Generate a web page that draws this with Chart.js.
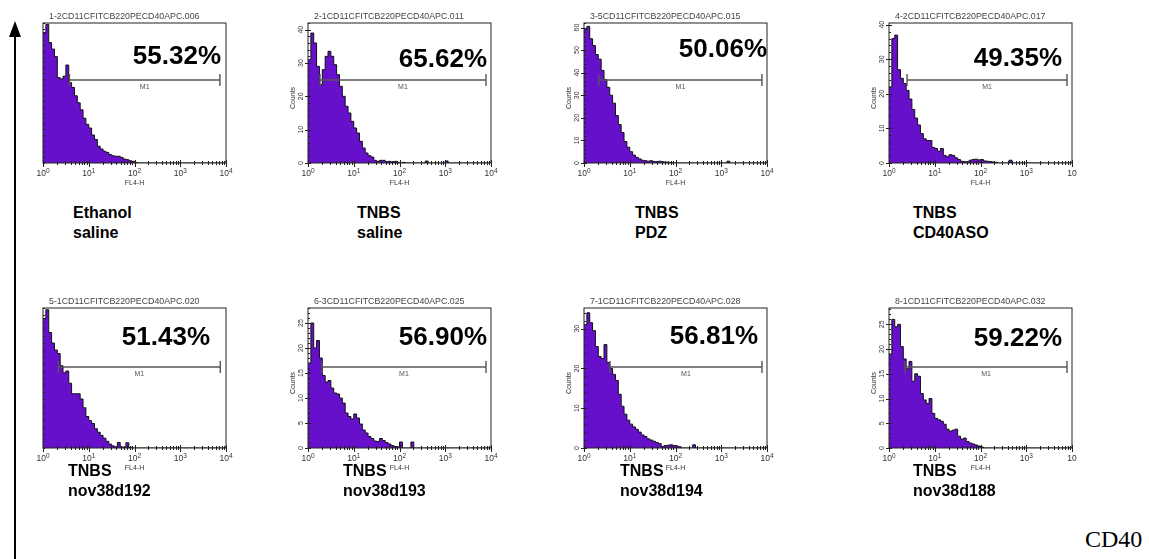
<!DOCTYPE html>
<html>
<head>
<meta charset="utf-8">
<script src="https://cdn.jsdelivr.net/npm/chart.js@4.4.1/dist/chart.umd.min.js"></script>
<style>
  html, body { margin: 0; padding: 0; background: #fff; }
  body { width: 1149px; height: 559px; position: relative; overflow: hidden; font-family: "Liberation Sans", Arial, sans-serif; }
  canvas.panel { position: absolute; }
  .cond { position: absolute; font-weight: bold; font-size: 16px; line-height: 20px; color: #000; white-space: nowrap; }
  #cd40 { position: absolute; left: 1085px; top: 525px; font-family: "Liberation Serif", "Times New Roman", serif; font-size: 24px; line-height: 28px; }
  #arrow { position: absolute; left: 0; top: 0; }
</style>
</head>
<body>
<svg id="arrow" width="30" height="559">
  <line x1="15" y1="34" x2="15" y2="559" stroke="#000" stroke-width="2"/>
  <polygon points="15,21 9,37 21,37" fill="#000"/>
</svg>
<div id="cd40">CD40</div>

<script>
// FL4-H channel of each bin's left edge (1024 channels = 4 decades)
const channels = [0, 16, 32, 48, 64, 80, 96, 112, 128, 144, 160, 176, 192, 208, 224, 240,
  256, 272, 288, 304, 320, 336, 352, 368, 384, 400, 416, 432, 448, 464, 480, 496,
  512, 528, 544, 560, 576, 592, 608, 624, 640, 656, 672, 688, 704, 720, 736, 752,
  768, 784, 800, 816, 832, 848, 864, 880, 896, 912, 928, 944, 960, 976, 992, 1008];

const fileNames = [
  "1-2CD11CFITCB220PECD40APC.006", "2-1CD11CFITCB220PECD40APC.011",
  "3-5CD11CFITCB220PECD40APC.015", "4-2CD11CFITCB220PECD40APC.017",
  "5-1CD11CFITCB220PECD40APC.020", "6-3CD11CFITCB220PECD40APC.025",
  "7-1CD11CFITCB220PECD40APC.028", "8-1CD11CFITCB220PECD40APC.032"
];
const percents = ["55.32%", "65.62%", "50.06%", "49.35%", "51.43%", "56.90%", "56.81%", "59.22%"];
const groups = [
  ["Ethanol", "saline"], ["TNBS", "saline"], ["TNBS", "PDZ"], ["TNBS", "CD40ASO"],
  ["TNBS", "nov38d192"], ["TNBS", "nov38d193"], ["TNBS", "nov38d194"], ["TNBS", "nov38d188"]
];

// counts per bin
const countsEth = [46.6, 49.5, 43, 40.7, 38, 30.5, 30, 31, 35, 28.7, 27, 24, 21.5, 19, 16, 13.8,
  12.5, 10, 8.4, 6, 5, 4.2, 3.8, 3, 2.6, 2.4, 2.4, 2, 1.4, 1.2, 0.8, 0.6, 0.2];
const countsTnbs = [31, 39, 36, 29, 23.5, 28, 32, 33.5, 32, 29.5, 26.5, 23, 20, 17, 15, 12.5,
  10.5, 9, 6.5, 4.5, 3, 2.2, 1.8, 0.8, 0.5, 0.8, 0.8, 0.4, 0.5, 0.3, 0.5, 0.2,
  0, 0.2, 0, 0, 0, 0, 0, 0, 0, 0.6, 0, 0, 0, 0, 0, 0, 0.6];
const countsPdz = [59, 60.5, 55, 52, 48, 46, 41, 37, 33.5, 30, 26.5, 21, 17, 13.5, 9.5, 7,
  5, 3.5, 2.5, 1.8, 1.2, 1, 0.8, 1, 0.7, 0.6, 0.8, 0.5, 0.4, 0.3, 0.2, 0,
  0, 0, 0, 0, 0, 0, 0, 0, 0, 0, 0, 0, 0, 0, 0, 0, 0, 0, 0.8];
const countsAso = [22, 36, 37, 27, 24.5, 23, 21, 18.5, 15.5, 13, 11, 8.5, 7, 6.5, 6.5, 4.5,
  4.2, 3.4, 4.2, 2.2, 1.8, 2.4, 2.2, 1.5, 1, 0.5, 0.4, 0.3, 0.8, 1, 1.1, 0.9,
  1, 0.6, 0.5, 0.4, 0.3, 0.2, 0, 0, 0, 0, 0.8];
const countsD192 = [37, 39.5, 33, 30, 28, 27, 23.5, 21.5, 22, 18.5, 15.5, 15.5, 15.5, 14, 11.5, 9,
  7.8, 7, 5.5, 4.5, 3.6, 2.8, 1.9, 1.1, 0.6, 0.3, 1.6, 0.3, 0.2, 1.5, 0.2];
const countsD193 = [17, 25, 20, 21.5, 18, 14.5, 13.2, 13.5, 12, 11, 10.8, 10, 9, 7, 6.3, 5.8,
  6.8, 6, 4.8, 3.6, 3, 2.3, 1.9, 1.4, 1.3, 1.9, 1.5, 1.1, 0.8, 0.5, 0.3, 0.2,
  1.2, 0, 0, 0, 1.2];
const countsD194 = [31, 34, 31.5, 29.5, 25.5, 23, 22.5, 26, 21.5, 20, 18.5, 17, 13.5, 10.5, 8.5, 7,
  6, 5.3, 4.7, 4, 3.3, 2.9, 2.3, 2, 1.7, 1.4, 1.1, 0.4, 0.6, 0.7, 0.8, 0.6,
  0.5, 0.3, 0, 0, 0, 0, 0.8];
const countsD188 = [19, 26, 24.5, 25, 20.5, 18, 16, 17.5, 13.5, 15, 14.5, 11, 9.7, 9, 10, 7,
  6, 5.7, 5.4, 4.8, 3.8, 3.4, 3.6, 3.8, 2.4, 1.8, 2, 1.3, 1, 0.8, 0.6, 0.4, 0.2];

const allCounts = [countsEth, countsTnbs, countsPdz, countsAso, countsD192, countsD193, countsD194, countsD188];

// M1 gate (channels)
const gateStart = [148, 67, 83, 101, 86, 78, 145, 90];
const gateEnd = [990, 996, 996, 996, 992, 996, 996, 996];

const yMax = [50, 42, 62, 40.5, 40, 28, 35.2, 28.3];
const yTicks = [[], [0, 10, 20, 30, 40], [0, 10, 20, 30, 40, 50, 60], [0, 10, 20, 30, 40],
  [], [0, 5, 10, 15, 20, 25], [0, 10, 20, 30], [0, 5, 10, 15, 20, 25]];
const yMinorStep = [2, 2, 2, 2, 2, 1, 2, 1];
const decadeExp = ["0", "1", "2", "3", "4"];
const decadeExpCut = ["0", "1", "2", "3", ""];

// layout
const plotLeft = [43, 308, 584, 889];
const plotTop = [23, 308];
const plotW = 183, plotH = 140;
const pad = { left: 40, top: 22, right: 30, bottom: 26 };
const pctDx = [-5, -4, 0, -10, -16, -4, -9, -10];
const pctDy = [34, 37, 27, 36, 30, 30, 29, 31];
const gateDy = [57, 59];
const condLeft = [[73, 357, 635, 913], [68, 343, 620, 913]];
const condTop = [203, 461];
const purple = "#6610cc";
const FONT = '"Liberation Sans", Arial, sans-serif';

const histDecor = {
  id: "histDecor",
  afterDatasetsDraw(chart, args, opts) {
    const i = opts.idx;
    const { ctx, chartArea: a, scales: { x, y } } = chart;
    ctx.save();
    ctx.strokeStyle = "#222";
    ctx.lineWidth = 1;
    ctx.strokeRect(a.left, a.top, a.width, a.height);

    // x ticks
    ctx.beginPath();
    for (let d = 0; d <= 4; d++) {
      const px = Math.round(x.getPixelForValue(d * 256)) + 0.5;
      ctx.moveTo(px, a.bottom - 3); ctx.lineTo(px, a.bottom + 4);
      if (d < 4) {
        for (let m = 2; m <= 9; m++) {
          const mx = Math.round(x.getPixelForValue(256 * (d + Math.log10(m)))) + 0.5;
          ctx.moveTo(mx, a.bottom - 2); ctx.lineTo(mx, a.bottom + 2);
        }
      }
    }
    // y minor ticks
    for (let v = 0; v <= yMax[i]; v += yMinorStep[i]) {
      const py = Math.round(y.getPixelForValue(v)) + 0.5;
      ctx.moveTo(a.left, py); ctx.lineTo(a.left + 2, py);
    }
    yTicks[i].forEach(v => {
      const py = Math.round(y.getPixelForValue(v)) + 0.5;
      ctx.moveTo(a.left - 3, py); ctx.lineTo(a.left + 3, py);
    });
    ctx.stroke();

    ctx.fillStyle = "#333";
    ctx.textBaseline = "middle";
    const exps = (i === 3 || i === 7) ? decadeExpCut : decadeExp;
    exps.forEach((e, d) => {
      const px = x.getPixelForValue(d * 256);
      ctx.font = "8.5px " + FONT;
      const w1 = ctx.measureText("10").width;
      ctx.font = "6.5px " + FONT;
      const w2 = e ? ctx.measureText(e).width : 0;
      const sx = px - (w1 + w2) / 2;
      ctx.textAlign = "left";
      ctx.font = "8.5px " + FONT;
      ctx.fillText("10", sx, a.bottom + 11);
      ctx.font = "6.5px " + FONT;
      if (e) ctx.fillText(e, sx + w1, a.bottom + 8);
    });
    ctx.textAlign = "center";
    ctx.font = "7px " + FONT;
    ctx.fillText("FL4-H", (a.left + a.right) / 2, a.bottom + 20);

    // y labels, rotated
    if (yTicks[i].length) {
      yTicks[i].forEach(v => {
        ctx.save();
        ctx.translate(a.left - 7, y.getPixelForValue(v));
        ctx.rotate(-Math.PI / 2);
        ctx.font = "7px " + FONT;
        ctx.fillText(String(v), 0, 0);
        ctx.restore();
      });
      ctx.save();
      ctx.translate(a.left - 15, (a.top + a.bottom) / 2 + 5);
      ctx.rotate(-Math.PI / 2);
      ctx.font = "7px " + FONT;
      ctx.fillText("Counts", 0, 0);
      ctx.restore();
    }

    // file name
    ctx.textAlign = "left";
    ctx.font = "8.8px " + FONT;
    ctx.fillStyle = "#444";
    ctx.fillText(fileNames[i], a.left + 6, a.top - 6);

    // M1 marker
    const gy = a.top + gateDy[Math.floor(i / 4)];
    const g0 = x.getPixelForValue(gateStart[i]);
    const g1 = x.getPixelForValue(gateEnd[i]);
    ctx.strokeStyle = "#555";
    ctx.lineWidth = 1.4;
    ctx.beginPath();
    ctx.moveTo(g0, gy); ctx.lineTo(g1, gy);
    ctx.moveTo(g0, gy - 6); ctx.lineTo(g0, gy + 6);
    ctx.moveTo(g1, gy - 6); ctx.lineTo(g1, gy + 6);
    ctx.stroke();
    ctx.textAlign = "center";
    ctx.font = "7px " + FONT;
    ctx.fillStyle = "#555";
    ctx.fillText("M1", (g0 + g1) / 2, gy + 7);

    // percentage
    ctx.textAlign = "right";
    ctx.font = "bold 26px " + FONT;
    ctx.fillStyle = "#000";
    ctx.fillText(percents[i], a.right + pctDx[i], a.top + pctDy[i]);
    ctx.restore();
  }
};

allCounts.forEach((counts, i) => {
  const row = Math.floor(i / 4), col = i % 4;
  const canvas = document.createElement("canvas");
  canvas.className = "panel";
  canvas.width = pad.left + plotW + pad.right;
  canvas.height = pad.top + plotH + pad.bottom;
  canvas.style.left = (plotLeft[col] - pad.left) + "px";
  canvas.style.top = (plotTop[row] - pad.top) + "px";
  document.body.appendChild(canvas);

  const points = channels.map((c, k) => ({ x: c, y: counts[k] ?? 0 }));
  points.push({ x: 1024, y: 0 });

  new Chart(canvas, {
    type: "line",
    data: {
      datasets: [{
        data: points,
        stepped: true,
        fill: "origin",
        backgroundColor: purple,
        borderColor: "#111",
        borderWidth: 1,
        pointRadius: 0
      }]
    },
    options: {
      responsive: false,
      animation: false,
      layout: { padding: pad },
      plugins: {
        legend: { display: false },
        tooltip: { enabled: false },
        histDecor: { idx: i }
      },
      scales: {
        x: { type: "linear", min: 0, max: 1024, display: false },
        y: { min: 0, max: yMax[i], display: false }
      }
    },
    plugins: [histDecor]
  });

  const lab = document.createElement("div");
  lab.className = "cond";
  lab.style.left = condLeft[row][col] + "px";
  lab.style.top = condTop[row] + "px";
  lab.innerHTML = groups[i][0] + "<br>" + groups[i][1];
  document.body.appendChild(lab);
});
</script>
</body>
</html>
